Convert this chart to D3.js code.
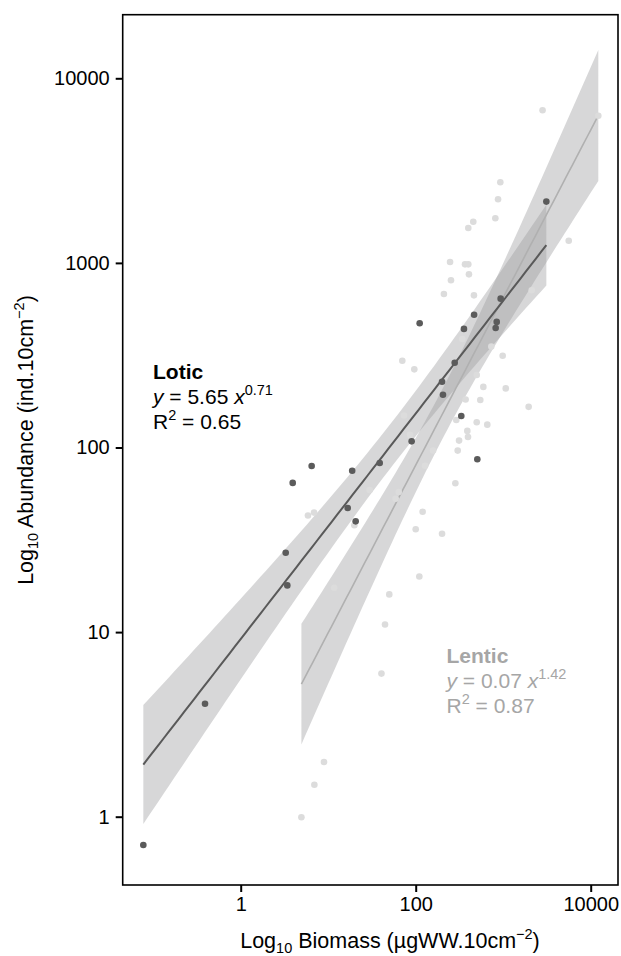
<!DOCTYPE html>
<html>
<head>
<meta charset="utf-8">
<script src="https://cdn.jsdelivr.net/npm/d3@7"></script>
<style>
  body { margin: 0; background: #fff; }
  svg { display: block; }
  text { font-family: "Liberation Sans", Arial, Helvetica, sans-serif; }
</style>
</head>
<body>
<svg id="chart" width="621" height="956"></svg>
<script>
// Lotic samples: biomass (µgWW.10cm-2) and abundance (ind.10cm-2)
const loticBiomass = [0.0771, 0.391, 3.27, 3.41, 3.93, 6.47, 16.7, 18.8, 20.6, 38.8, 89.9, 111,
  200, 205, 279, 332, 356, 465, 506, 820, 843, 935, 3112];
const loticAbundance = [0.703, 4.09, 26.9, 17.9, 64.3, 79.4, 47.0, 74.8, 39.8, 82.4, 108, 471,
  227, 193, 288, 148, 439, 524, 86.3, 444, 479, 640, 2148];

// Lentic samples
const lenticBiomass = [2818, 12218, 927, 873, 813, 455, 399, 5610, 247, 366, 399, 406, 253, 210,
  463, 2118, 341, 731, 986, 70.3, 96.4, 498, 593, 1069, 372, 547, 1954, 73.5, 291, 498, 658,
  389, 396, 313, 86.1, 302, 158, 128, 284, 29.8, 64.0, 59.0, 120, 5.87, 6.89, 100, 200, 19.9,
  110, 11.7, 49.9, 44.6, 40.6, 8.95, 6.95, 4.94];
const lenticAbundance = [6714, 6266, 2735, 2213, 1746, 1671, 1545, 1318, 1012, 982, 982, 867, 805,
  679, 667, 711, 387, 352, 314, 295, 265, 247, 213, 209, 182, 181, 166, 149, 141, 137, 133,
  123, 114, 109, 117, 96.2, 96.2, 79.6, 64.0, 58.9, 57.4, 52.8, 44.9, 42.8, 44.4, 36.1, 34.1,
  37.9, 20.0, 17.4, 16.0, 11.0, 5.96, 1.98, 1.49, 0.993];

const xTickValues = [1, 100, 10000];
const xTickLabels = ["1", "100", "10000"];
const yTickValues = [1, 10, 100, 1000, 10000];
const yTickLabels = ["1", "10", "100", "1000", "10000"];

const W = 621, H = 956;
const panel = { left: 122.7, top: 14.7, right: 618, bottom: 885 };

const x = d3.scaleLog().domain([Math.pow(10, -1.3486), Math.pow(10, 4.312)])
  .range([panel.left, panel.right]);
const y = d3.scaleLog().domain([Math.pow(10, -0.37), Math.pow(10, 4.3445)])
  .range([panel.bottom, panel.top]);

const svg = d3.select("#chart");

// Two-sided 97.5% Student t quantile (Cornish-Fisher expansion around the normal quantile)
function tQuantile(df) {
  const z = 1.959964;
  const z3 = z ** 3, z5 = z ** 5, z7 = z ** 7;
  return z + (z3 + z) / (4 * df) + (5 * z5 + 16 * z3 + 3 * z) / (96 * df * df)
    + (3 * z7 + 19 * z5 + 17 * z3 - 15 * z) / (384 * df ** 3);
}

// Ordinary least squares on log10-log10 values with a 95% confidence band
function fitLogLog(xs, ys) {
  const lx = xs.map(Math.log10), ly = ys.map(Math.log10);
  const n = lx.length, mx = d3.mean(lx), my = d3.mean(ly);
  let sxx = 0, sxy = 0;
  for (let i = 0; i < n; i++) {
    sxx += (lx[i] - mx) ** 2;
    sxy += (lx[i] - mx) * (ly[i] - my);
  }
  const b = sxy / sxx, a = my - b * mx;
  let sse = 0;
  for (let i = 0; i < n; i++) sse += (ly[i] - a - b * lx[i]) ** 2;
  const s = Math.sqrt(sse / (n - 2));
  const t = tQuantile(n - 2);
  const [lo, hi] = d3.extent(lx);
  return d3.range(80).map(i => {
    const u = lo + (hi - lo) * i / 79;
    const f = a + b * u;
    const se = s * Math.sqrt(1 / n + (u - mx) ** 2 / sxx);
    return { u, f, low: f - t * se, high: f + t * se };
  });
}

const loticFit = fitLogLog(loticBiomass, loticAbundance);
const lenticFit = fitLogLog(lenticBiomass, lenticAbundance);

svg.append("clipPath").attr("id", "panel-clip")
  .append("rect")
  .attr("x", panel.left).attr("y", panel.top)
  .attr("width", panel.right - panel.left).attr("height", panel.bottom - panel.top);

const plot = svg.append("g").attr("clip-path", "url(#panel-clip)");

const band = d3.area()
  .x(d => x(Math.pow(10, d.u)))
  .y0(d => y(Math.pow(10, d.low)))
  .y1(d => y(Math.pow(10, d.high)));
const fitLine = d3.line()
  .x(d => x(Math.pow(10, d.u)))
  .y(d => y(Math.pow(10, d.f)));

// Confidence ribbons
[lenticFit, loticFit].forEach(fit => {
  plot.append("path").datum(fit)
    .attr("d", band)
    .attr("fill", "#9a9b9e")
    .attr("fill-opacity", 0.4);
});

// Regression lines
plot.append("path").datum(lenticFit)
  .attr("d", fitLine).attr("fill", "none")
  .attr("stroke", "#b0b0b0").attr("stroke-width", 1.6);
plot.append("path").datum(loticFit)
  .attr("d", fitLine).attr("fill", "none")
  .attr("stroke", "#595959").attr("stroke-width", 2);

// Points
plot.selectAll("circle.lentic")
  .data(d3.zip(lenticBiomass, lenticAbundance))
  .join("circle").attr("class", "lentic")
  .attr("cx", d => x(d[0])).attr("cy", d => y(d[1]))
  .attr("r", 3.3).attr("fill", "#dcdcdc");
plot.selectAll("circle.lotic")
  .data(d3.zip(loticBiomass, loticAbundance))
  .join("circle").attr("class", "lotic")
  .attr("cx", d => x(d[0])).attr("cy", d => y(d[1]))
  .attr("r", 3.3).attr("fill", "#5b5b5b");

// Panel border
svg.append("rect")
  .attr("x", panel.left).attr("y", panel.top)
  .attr("width", panel.right - panel.left).attr("height", panel.bottom - panel.top)
  .attr("fill", "none").attr("stroke", "#000").attr("stroke-width", 1.6);

// Axes
const xAxis = svg.append("g")
  .attr("transform", `translate(0,${panel.bottom})`)
  .call(d3.axisBottom(x).tickValues(xTickValues)
    .tickFormat((d, i) => xTickLabels[i]).tickSize(7).tickPadding(5).tickSizeOuter(0));
const yAxis = svg.append("g")
  .attr("transform", `translate(${panel.left},0)`)
  .call(d3.axisLeft(y).tickValues(yTickValues)
    .tickFormat((d, i) => yTickLabels[i]).tickSize(7).tickPadding(6).tickSizeOuter(0));
[xAxis, yAxis].forEach(g => {
  g.select(".domain").remove();
  g.selectAll(".tick line").attr("stroke", "#000").attr("stroke-width", 2);
  g.selectAll(".tick text").attr("fill", "#000").attr("font-size", 20)
    .style("font-family", '"Liberation Sans", Arial, sans-serif');
});

// Axis titles
const xTitle = svg.append("text")
  .attr("x", 390).attr("y", 948).attr("text-anchor", "middle")
  .attr("font-size", 21.5).attr("fill", "#000");
xTitle.append("tspan").text("Log");
xTitle.append("tspan").attr("font-size", 14.5).attr("dy", 5).text("10");
xTitle.append("tspan").attr("dy", -5).text(" Biomass (µgWW.10cm");
xTitle.append("tspan").attr("font-size", 14.5).attr("dy", -9).text("−2");
xTitle.append("tspan").attr("dy", 9).text(")");

const yTitle = svg.append("text")
  .attr("transform", "translate(33,440) rotate(-90)")
  .attr("text-anchor", "middle")
  .attr("font-size", 21.5).attr("fill", "#000");
yTitle.append("tspan").text("Log");
yTitle.append("tspan").attr("font-size", 14.5).attr("dy", 5).text("10");
yTitle.append("tspan").attr("dy", -5).text(" Abundance (ind.10cm");
yTitle.append("tspan").attr("font-size", 14.5).attr("dy", -9).text("−2");
yTitle.append("tspan").attr("dy", 9).text(")");

// Regression annotations
function annotate(px, py, title, coef, expo, r2, color) {
  const g = svg.append("g").attr("fill", color).attr("font-size", 21);
  g.append("text").attr("x", px).attr("y", py).attr("font-weight", "bold").text(title);
  const eq = g.append("text").attr("x", px).attr("y", py + 25);
  eq.append("tspan").attr("font-style", "italic").text("y");
  eq.append("tspan").text(` = ${coef} `);
  eq.append("tspan").attr("font-style", "italic").text("x");
  eq.append("tspan").attr("font-size", 14.5).attr("dy", -9).text(expo);
  const r = g.append("text").attr("x", px).attr("y", py + 50);
  r.append("tspan").text("R");
  r.append("tspan").attr("font-size", 14.5).attr("dy", -9).text("2");
  r.append("tspan").attr("dy", 9).text(` = ${r2}`);
}
annotate(153, 379, "Lotic", "5.65", "0.71", "0.65", "#000");
annotate(446.5, 663, "Lentic", "0.07", "1.42", "0.87", "#a6a6a6");
</script>
</body>
</html>
